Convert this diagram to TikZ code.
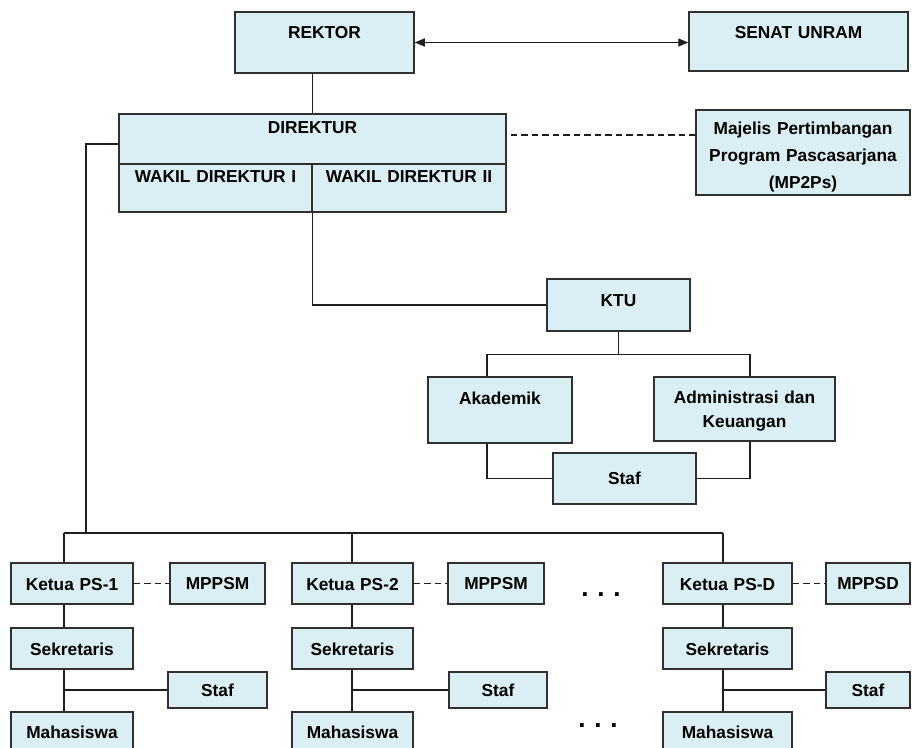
\documentclass[tikz,border=0pt]{standalone}
\usepackage{fontspec}
\setmainfont{Liberation Sans}
\usetikzlibrary{arrows.meta}
\definecolor{boxfill}{RGB}{219,238,244}
\definecolor{boxline}{RGB}{48,48,48}
\definecolor{conn}{RGB}{30,30,30}
\newcommand\orgbox[8][]{%
  \pgfmathsetmacro\obw{#5-#3}%
  \pgfmathsetmacro\obh{#6-#4}%
  \pgfmathsetmacro\obth{#7-#4+6.2}%
  \pgfmathsetmacro\obtd{\obh-\obth}%
  \pgfmathsetmacro\obx{(#3+#5)/2}%
  \pgfmathsetmacro\oby{(#4+#6)/2}%
  \node[orgbx,minimum width=\obw pt,text width=\obw pt,minimum height=\obh pt,
        text height=\obth pt,text depth=\obtd pt,#1] (#2) at (\obx,\oby) {#8};}
\begin{document}
\begin{tikzpicture}[x=1pt,y=-1pt,
  orgbx/.style={draw=boxline,fill=boxfill,line width=1.5pt,inner sep=0pt,
    align=center,font=\fontsize{17.3}{21}\selectfont\bfseries},
  conline/.style={draw=conn,line width=1.4pt},
  dashline/.style={conline,dash pattern=on 6.5pt off 4pt},
  dotsnode/.style={inner sep=0pt,anchor=base,font=\fontsize{26}{26}\selectfont\bfseries}]
\path[use as bounding box,clip] (0,0) rectangle (912,747);
\fill[white] (0,0) rectangle (912,747);

% top level
\orgbox{rek}{235}{12}{414}{73}{32}{REKTOR}
\orgbox{sen}{689}{12}{908}{71}{32}{SENAT UNRAM}
\orgbox{dir}{119}{114}{506}{164}{127}{DIREKTUR}
\orgbox{wak1}{119}{164}{312}{212}{176}{WAKIL DIREKTUR I}
\orgbox{wak2}{312}{164}{506}{212}{176}{WAKIL DIREKTUR II}
\orgbox[font=\fontsize{17.3}{27}\selectfont\bfseries]{mp}{696}{110}{910}{195}{128}{Majelis Pertimbangan\\Program Pascasarjana\\(MP2Ps)}

% administration
\orgbox{ktu}{547}{279}{690}{331}{300}{KTU}
\orgbox{ak}{428}{377}{572}{443}{398}{Akademik}
\orgbox[font=\fontsize{17.3}{24.5}\selectfont\bfseries]{ad}{654}{377}{835}{441}{397}{Administrasi dan\\Keuangan}
\orgbox{stf}{553}{453}{696}{504}{478}{Staf}

% study programmes
\orgbox{k1}{11}{563}{133}{604}{584}{Ketua PS-1}
\orgbox{mpp1}{170}{563}{265}{604}{583}{MPPSM}
\orgbox{k2}{292}{563}{413}{604}{584}{Ketua PS-2}
\orgbox{mpp2}{448}{563}{544}{604}{583}{MPPSM}
\orgbox{kd}{663}{563}{792}{604}{584}{Ketua PS-D}
\orgbox{mppd}{826}{563}{910}{604}{583}{MPPSD}
\orgbox{s1}{11}{628}{133}{669}{649}{Sekretaris}
\orgbox{s2}{292}{628}{413}{669}{649}{Sekretaris}
\orgbox{sd}{663}{628}{792}{669}{649}{Sekretaris}
\orgbox{st1}{168}{672}{267}{708}{690}{Staf}
\orgbox{st2}{449}{672}{547}{708}{690}{Staf}
\orgbox{std}{826}{672}{910}{708}{690}{Staf}
\orgbox{m1}{11}{712}{133}{762}{732}{Mahasiswa}
\orgbox{m2}{292}{712}{413}{762}{732}{Mahasiswa}
\orgbox{md}{663}{712}{792}{762}{732}{Mahasiswa}

\node[dotsnode] (dots1) at (601,596) {.\hspace{8.8pt}.\hspace{8.8pt}.};
\node[dotsnode] (dots2) at (598,727) {.\hspace{8.8pt}.\hspace{8.8pt}.};

% coordinates for off-centre connector lines
\coordinate (busL) at (64,533);
\coordinate (busM) at (352,533);
\coordinate (busR) at (723,533);
\coordinate (lft) at (86,533);
\coordinate (xak) at (487,0);
\coordinate (xad) at (750,0);

% connectors top
\draw[conline,{Triangle[length=10pt,width=8pt]}-{Triangle[length=10pt,width=8pt]}]
  (rek.east) -- (rek.east -| sen.west);
\draw[conline] (dir.north) -- (dir.north |- rek.south);
\draw[dashline] ([xshift=4pt,yshift=4pt]dir.east) -- ([yshift=4pt]dir.east -| mp.west);
\draw[conline] ([yshift=-5pt]dir.west) -| (lft);
\draw[conline] (wak1.south east) |- (ktu.west);

% administration connectors
\draw[conline] (ktu.south) -- ++(0,23) coordinate (kb);
\draw[conline] (xak |- ak.north) |- (kb) -| (xad |- ad.north);
\draw[conline] (xak |- ak.south) |- (stf.west);
\draw[conline] (xad |- ad.south) |- (stf.east);

% study programme connectors
\draw[conline] (busL) -- (busR);
\draw[conline] (busL) -- (busL |- k1.north);
\draw[conline] (busM) -- (busM |- k2.north);
\draw[conline] (busR) -- (busR |- kd.north);
\draw[dashline] (k1.east) -- (mpp1.west);
\draw[dashline] (k2.east) -- (mpp2.west);
\draw[dashline] (kd.east) -- (mppd.west);
\draw[conline] (busL |- k1.south) -- (busL |- s1.north);
\draw[conline] (busM |- k2.south) -- (busM |- s2.north);
\draw[conline] (busR |- kd.south) -- (busR |- sd.north);
\draw[conline] (busL |- s1.south) -- (busL |- m1.north);
\draw[conline] (busM |- s2.south) -- (busM |- m2.north);
\draw[conline] (busR |- sd.south) -- (busR |- md.north);
\draw[conline] (busL |- st1.west) -- (st1.west);
\draw[conline] (busM |- st2.west) -- (st2.west);
\draw[conline] (busR |- std.west) -- (std.west);
\end{tikzpicture}
\end{document}
